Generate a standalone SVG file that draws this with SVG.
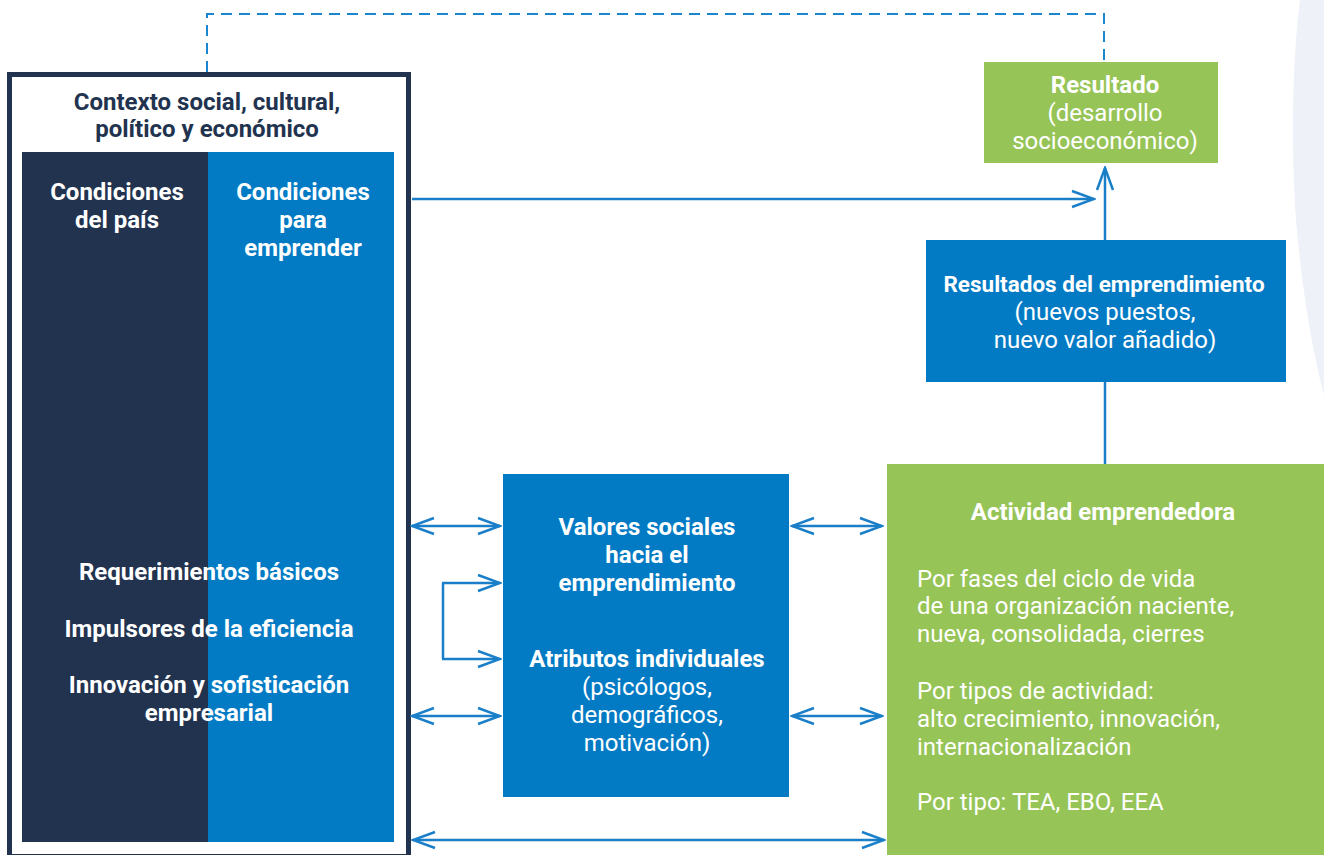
<svg xmlns="http://www.w3.org/2000/svg" width="1324" height="855" viewBox="0 0 1324 855">
<style>
text{font-family:Roboto,"Liberation Sans",sans-serif;font-size:24px;text-anchor:middle;fill:#fff}
.b{font-weight:bold}
.t{fill:#22334f;font-weight:bold}
.l{text-anchor:start}
.s{font-size:22.5px}
.c{fill:none;stroke:#1a7fc8;stroke-width:2.5}
.blue{fill:#037bc4}
.green{fill:#96c457}
</style>
<defs>
<marker id="ah" markerUnits="userSpaceOnUse" viewBox="-24 -10 26 20" refX="0" refY="0" markerWidth="26" markerHeight="20" orient="auto-start-reverse">
<path d="M-22,-8 L0,0 L-22,8" fill="none" stroke="#1a7fc8" stroke-width="2.5"/>
</marker>
</defs>
<rect width="1324" height="855" fill="#fff"/>
<path d="M1324,0 L1300,0 C1292,60 1291,150 1296,220 C1302,290 1312,350 1324,395 Z" fill="#eef2f8"/>

<g id="contexto">
<rect x="9.5" y="74.5" width="399" height="782" fill="#fff" stroke="#22334f" stroke-width="5"/>
<rect x="22" y="152" width="186" height="690" fill="#22334f"/>
<rect x="208" y="152" width="186" height="690" class="blue"/>
<text x="207" y="110" class="t">Contexto social, cultural,</text>
<text x="207" y="137" class="t">político y económico</text>
<text x="117" y="200" class="b">Condiciones</text>
<text x="117" y="228" class="b">del país</text>
<text x="303" y="200" class="b">Condiciones</text>
<text x="303" y="228" class="b">para</text>
<text x="303" y="256" class="b">emprender</text>
<text x="209" y="580" class="b">Requerimientos básicos</text>
<text x="209" y="637" class="b">Impulsores de la eficiencia</text>
<text x="209" y="693" class="b">Innovación y sofisticación</text>
<text x="209" y="721" class="b">empresarial</text>
</g>

<g id="resultado">
<rect x="984" y="62" width="234" height="101" class="green"/>
<text x="1105" y="93" class="b">Resultado</text>
<text x="1105" y="121">(desarrollo</text>
<text x="1105" y="149">socioeconómico)</text>
</g>

<g id="resultados-emprendimiento">
<rect x="926" y="240" width="360" height="142" class="blue"/>
<text x="1104" y="292" class="b s">Resultados del emprendimiento</text>
<text x="1105" y="320">(nuevos puestos,</text>
<text x="1105" y="348">nuevo valor añadido)</text>
</g>

<g id="valores">
<rect x="503" y="474" width="286" height="323" class="blue"/>
<text x="647" y="535" class="b">Valores sociales</text>
<text x="647" y="563" class="b">hacia el</text>
<text x="647" y="591" class="b">emprendimiento</text>
<text x="647" y="667" class="b">Atributos individuales</text>
<text x="647" y="695">(psicólogos,</text>
<text x="647" y="723">demográficos,</text>
<text x="647" y="751">motivación)</text>
</g>

<g id="actividad">
<rect x="887" y="464" width="440" height="395" class="green"/>
<text x="1103" y="520" class="b">Actividad emprendedora</text>
<text x="917" y="587" class="l">Por fases del ciclo de vida</text>
<text x="917" y="614" class="l">de una organización naciente,</text>
<text x="917" y="642" class="l">nueva, consolidada, cierres</text>
<text x="917" y="699" class="l">Por tipos de actividad:</text>
<text x="917" y="727" class="l">alto crecimiento, innovación,</text>
<text x="917" y="755" class="l">internacionalización</text>
<text x="917" y="810" class="l">Por tipo: TEA, EBO, EEA</text>
</g>

<g id="connectors">
<path d="M207,72 V14 H1104 V62" fill="none" stroke="#1a86cf" stroke-width="2" stroke-dasharray="11,7"/>
<path d="M412,199 H1094" class="c" marker-end="url(#ah)"/>
<path d="M1105,240 V168" class="c" marker-end="url(#ah)"/>
<path d="M1105,382 V464" class="c"/>
<path d="M412,526 H500" class="c" marker-start="url(#ah)" marker-end="url(#ah)"/>
<path d="M792,526 H882" class="c" marker-start="url(#ah)" marker-end="url(#ah)"/>
<path d="M412,716 H500" class="c" marker-start="url(#ah)" marker-end="url(#ah)"/>
<path d="M792,716 H882" class="c" marker-start="url(#ah)" marker-end="url(#ah)"/>
<path d="M413,840 H884" class="c" marker-start="url(#ah)" marker-end="url(#ah)"/>
<path d="M443,583 V659" class="c"/>
<path d="M442,583 H500" class="c" marker-end="url(#ah)"/>
<path d="M442,659 H500" class="c" marker-end="url(#ah)"/>
</g>
</svg>
